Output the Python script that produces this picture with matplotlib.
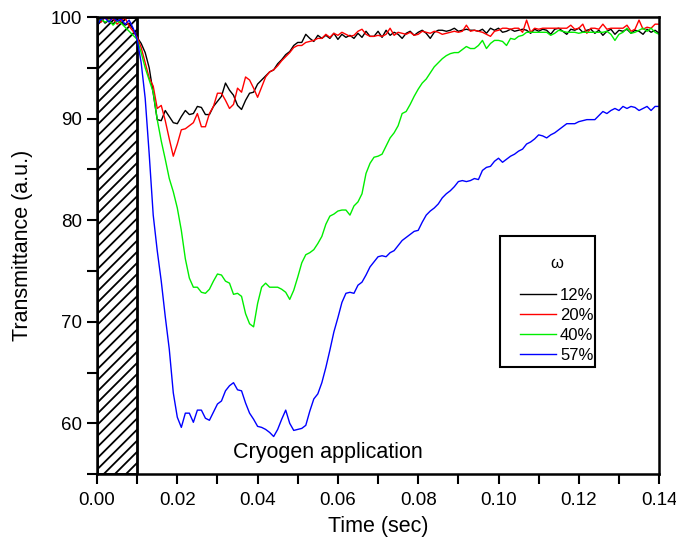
import numpy as np
import matplotlib
matplotlib.use("Agg")
import matplotlib.pyplot as plt
from matplotlib.patches import Rectangle

plt.rcParams['font.family'] = ['Liberation Sans', 'DejaVu Sans']
plt.rcParams['hatch.linewidth'] = 1.3

# time axis, 1 ms sampling
time = np.arange(141) / 1000.0

w12 = [99.6, 99.9, 99.4, 99.7, 99.3, 99.8, 99.5, 99.2, 99.4, 98.8,
       98.0, 97.4, 96.5, 95.0, 92.5, 89.9, 89.8, 90.8, 90.2, 89.6,
       89.5, 90.2, 90.8, 90.4, 90.5, 91.2, 91.1, 90.4, 90.4, 91.2,
       91.7, 92.2, 93.5, 92.8, 92.3, 91.3, 90.9, 91.8, 92.5, 92.6,
       93.4, 93.8, 94.2, 94.6, 94.8, 95.4, 95.8, 96.3, 96.6, 97.2,
       97.5, 97.5, 98.3, 97.9, 97.6, 98.2, 97.9, 98.2, 97.9, 98.4,
       97.8, 98.3, 98.0, 98.2, 97.9, 98.4, 98.0, 98.6, 98.1, 98.1,
       98.6, 98.0, 98.7, 98.2, 98.5, 98.3, 97.9, 98.4, 98.6, 98.2,
       98.5, 98.7, 98.4, 97.9, 98.5, 98.7, 98.7, 98.6, 98.7, 98.9,
       98.6, 98.7, 98.8, 98.7, 98.7, 98.6, 98.8, 98.4, 98.9, 98.7,
       98.9, 98.5, 98.6, 98.8, 98.6, 98.7, 98.8, 98.7, 98.4, 98.8,
       98.6, 98.8, 98.7, 98.3, 98.8, 98.9, 98.6, 98.3, 98.8, 98.7,
       98.9, 98.5, 98.7, 98.8, 98.4, 98.7, 98.2, 98.6, 98.8, 98.3,
       98.7, 98.6, 98.8, 98.4, 98.7, 98.6, 98.3, 98.8, 98.5, 98.7,
       98.4]

w20 = [99.8, 99.5, 100.0, 99.6, 99.9, 99.3, 99.7, 99.9, 99.1, 98.6,
       98.0, 97.0, 95.5, 94.0, 93.2, 91.0, 91.3, 89.8, 88.0, 86.3,
       87.5, 88.9, 89.0, 89.3, 89.6, 90.5, 89.2, 89.2, 90.5, 91.2,
       92.5, 92.5, 91.8, 91.0, 91.4, 93.0, 92.6, 94.1, 93.8, 93.0,
       92.1, 93.1, 94.1, 94.6, 94.8, 95.2, 95.7, 96.1, 96.5, 97.0,
       97.2, 97.2, 97.5, 97.6, 97.7, 97.9, 97.9, 98.3, 98.0, 98.4,
       98.2, 98.5, 98.3, 98.1, 98.2, 98.6, 98.8, 98.3, 98.1, 98.1,
       98.2, 98.1, 98.3, 98.9, 98.2, 98.5, 98.4, 98.3, 98.5, 98.2,
       98.3, 98.6, 98.5, 98.4, 98.6, 98.5, 98.3, 98.4, 98.5, 98.6,
       98.5, 98.6, 99.2, 98.6, 98.7, 98.6, 98.5, 98.3, 98.1, 98.6,
       98.7, 98.9, 98.9, 98.8, 98.9, 98.9, 98.5, 99.7, 98.5, 98.9,
       98.8, 98.9, 98.9, 98.9, 98.9, 98.9, 98.9, 98.9, 99.2, 98.8,
       98.9, 99.3, 98.4, 98.9, 98.9, 98.8, 99.3, 98.8, 98.9, 98.9,
       98.9, 98.9, 99.2, 98.6, 98.8, 99.7, 98.8, 99.0, 98.9, 99.3,
       99.3]

w40 = [99.4, 99.8, 99.5, 99.7, 99.2, 99.6, 99.4, 99.0, 98.6, 98.2,
       97.8, 96.5, 95.0, 93.8, 92.6, 89.9, 87.8, 86.0, 84.1, 82.8,
       81.2, 79.0, 76.2, 74.3, 73.4, 73.4, 72.9, 72.8, 73.2, 74.0,
       74.7, 74.6, 74.0, 73.8, 72.7, 72.8, 72.5, 70.8, 69.8, 69.5,
       71.8, 73.4, 73.8, 73.4, 73.4, 73.4, 73.2, 72.9, 72.2, 73.1,
       74.4, 75.8, 76.6, 76.8, 77.1, 77.7, 78.4, 79.6, 80.4, 80.6,
       80.9, 81.0, 81.0, 80.5, 81.4, 81.8, 82.6, 84.6, 85.6, 86.2,
       86.3, 86.5, 87.3, 88.1, 88.6, 89.3, 90.5, 90.7, 91.4, 92.2,
       92.9, 93.5, 93.9, 94.5, 95.1, 95.5, 95.9, 96.2, 96.4, 96.5,
       96.5, 96.8, 97.1, 96.9, 96.9, 97.2, 97.7, 96.9, 97.4, 97.7,
       97.7, 97.6, 97.2, 97.9, 97.8, 98.1, 98.2, 98.5, 98.5, 98.5,
       98.5, 98.5, 98.5, 98.2, 98.4, 98.7, 98.6, 98.5, 98.5, 98.5,
       98.4, 98.5, 98.5, 98.5, 98.5, 98.5, 98.5, 98.6, 98.3, 97.7,
       98.3, 98.5, 98.9, 98.4, 98.5, 98.7, 98.9, 98.6, 98.9, 98.5,
       98.3]

w57 = [99.2, 99.8, 99.9, 99.5, 100.0, 99.6, 99.8, 99.3, 99.7, 98.9,
       97.8, 95.5, 92.0, 86.5, 80.5, 77.0, 74.0, 70.5, 67.3, 63.0,
       60.6, 59.6, 61.0, 61.0, 60.1, 61.3, 61.3, 60.5, 60.3, 61.1,
       61.9, 62.2, 63.2, 63.7, 64.0, 63.3, 63.2, 62.0, 61.0, 60.4,
       59.7, 59.6, 59.4, 59.1, 58.7, 59.4, 60.4, 61.3, 60.0, 59.3,
       59.4, 59.5, 59.8, 61.2, 62.4, 62.9, 64.0, 65.5, 67.2, 69.0,
       70.4, 71.9, 72.8, 72.9, 72.8, 73.6, 73.9, 74.6, 75.4, 75.9,
       76.4, 76.5, 76.4, 76.8, 77.0, 77.5, 78.0, 78.3, 78.6, 78.9,
       79.0, 79.8, 80.5, 80.9, 81.2, 81.6, 82.2, 82.6, 82.9, 83.3,
       83.8, 83.9, 83.8, 83.9, 84.1, 84.0, 84.9, 85.2, 85.3, 85.8,
       86.1, 85.7, 86.0, 86.3, 86.5, 86.8, 87.0, 87.5, 87.7, 88.0,
       88.4, 88.3, 88.1, 88.4, 88.6, 88.9, 89.2, 89.5, 89.5, 89.5,
       89.7, 89.8, 89.9, 89.9, 89.9, 90.3, 90.7, 90.5, 90.8, 91.0,
       90.8, 91.2, 91.0, 91.2, 91.1, 90.8, 91.0, 91.2, 90.8, 91.2,
       91.2]

labels = ["12%", "20%", "40%", "57%"]
colors = ["black", "red", "#00ee00", "blue"]

fig = plt.figure(figsize=(6.76, 5.5), dpi=100)
ax = fig.add_axes([0.1435, 0.138, 0.8315, 0.831])

# cryogen spurt window
ax.axvspan(0, 0.01, facecolor="none", edgecolor="black", hatch="///", linewidth=2, zorder=1)

for vals, lab, c in zip([w12, w20, w40, w57], labels, colors):
    ax.plot(time, vals, color=c, linewidth=1.0, label=lab, zorder=2)

ax.set_xlim(0, 0.14)
ax.set_ylim(55, 100)
ax.set_xticks(np.arange(0, 0.141, 0.02))
ax.set_xticklabels([f"{v:.2f}" for v in np.arange(0, 0.141, 0.02)])
ax.set_xticks(np.arange(0, 0.141, 0.01), minor=True)
ax.set_yticks([60, 70, 80, 90, 100])
ax.set_yticks(np.arange(55, 101, 5), minor=True)
ax.tick_params(which="both", direction="out", length=7, width=1.5, labelsize=13.5,
               top=False, right=False)
ax.tick_params(axis="x", pad=6)
for s in ax.spines.values():
    s.set_linewidth(1.8)

ax.set_xlabel("Time (sec)", fontsize=15.5, labelpad=5)
ax.set_ylabel("Transmittance (a.u.)", fontsize=15.5, labelpad=13)

ax.text(0.0576, 57.1, "Cryogen application", fontsize=15.5, ha="center", va="center")

# legend: entries without frame, box drawn separately (text sits close to the right edge)
leg = ax.legend(title="ω", loc="upper left", bbox_to_anchor=(0.7527, 0.477), borderaxespad=0,
                fontsize=12, title_fontsize=12, frameon=False, borderpad=0,
                labelspacing=0.3, handlelength=2.15, handletextpad=0.25)
leg._legend_box.sep = 12
ax.add_patch(Rectangle((0.717, 0.234), 0.169, 0.287, transform=ax.transAxes,
                       facecolor="none", edgecolor="black", linewidth=1.5, zorder=5))

fig.savefig("out.png", dpi=100)
